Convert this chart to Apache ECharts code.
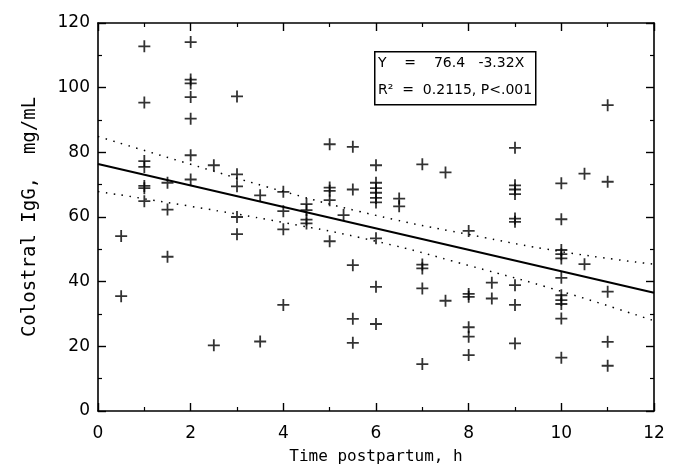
<!DOCTYPE html>
<html>
<head>
<meta charset="utf-8">
<script src="https://cdn.jsdelivr.net/npm/echarts@6/dist/echarts.min.js"></script>
<style>
html,body{margin:0;padding:0;background:#fff;}
#chart{width:678px;height:471px;}
</style>
</head>
<body>
<div id="chart"></div>
<script>
// Time postpartum (h) groups and colostral IgG values
const hours = [0.5, 1, 1.5, 2, 2.5, 3, 3.5, 4, 4.5, 5, 5.3, 5.5, 6, 6.5, 7, 7.5, 8, 8.5, 9, 10, 10.5, 11];
const iggByHour = [
  [54.1, 35.5],
  [112.8, 95.4, 77.3, 75.5, 69.6, 68.9, 64.9],
  [70.6, 62.3, 47.7],
  [114.1, 102.5, 101.3, 97.1, 90.4, 79.1, 71.6],
  [76.0, 20.3],
  [97.3, 73.2, 69.5, 60.0, 54.7],
  [66.7, 21.5],
  [67.8, 61.8, 56.2, 32.8],
  [64.0, 62.1, 59.2, 58.0],
  [82.5, 69.1, 68.1, 65.2, 52.5],
  [60.6],
  [81.7, 68.5, 45.1, 28.5, 21.1],
  [76.0, 70.6, 68.9, 67.5, 65.9, 64.5, 53.4, 38.4, 26.9],
  [65.7, 63.3],
  [76.3, 45.3, 44.1, 37.9, 14.5],
  [73.8, 34.1],
  [55.7, 36.2, 35.3, 25.9, 23.0, 17.3],
  [39.7, 34.8],
  [81.4, 69.8, 68.5, 67.1, 59.5, 58.5, 38.9, 32.8, 20.9],
  [70.4, 59.3, 49.8, 48.5, 47.2, 41.2, 35.8, 34.3, 33.1, 28.6, 16.5],
  [73.4, 45.4],
  [94.6, 70.9, 36.9, 21.4, 14.0]
];
// Regression line endpoints (Y = 76.4 - 3.32X)
const fitX = [0, 12];
const fitY = [76.4, 36.56];
// Confidence band
const bandX = [0, 2, 4, 6, 8, 10, 12];
const bandUpper = [84.9, 76.3, 67.9, 60.5, 54.6, 49.3, 45.4];
const bandLower = [67.9, 63.3, 58.3, 52.5, 45.0, 37.0, 27.9];
const xTicks = [0, 2, 4, 6, 8, 10, 12];
const yTicks = [0, 20, 40, 60, 80, 100, 120];
const boxLines = ['Y    =    76.4   -3.32X', 'R\u00B2  =  0.2115, P<.001'];

const points = [];
hours.forEach((h, i) => iggByHour[i].forEach(v => points.push([h, v])));
const fitData = fitX.map((x, i) => [x, fitY[i]]);
const upperData = bandX.map((x, i) => [x, bandUpper[i]]);
const lowerData = bandX.map((x, i) => [x, bandLower[i]]);

const labelFont = {color: '#000', fontFamily: 'DejaVu Sans', fontSize: 17};
const lineBlack = {color: '#000', width: 1.6};

function xAxisCfg(pos, showLabel) {
  return {
    type: 'value', position: pos, min: xTicks[0], max: xTicks[xTicks.length - 1], interval: 2,
    axisLine: {show: true, onZero: false, lineStyle: lineBlack},
    axisTick: {show: true, inside: true, length: 8, lineStyle: {color: '#000', width: 1.4}},
    minorTick: {show: true, splitNumber: 2, length: 4, lineStyle: {color: '#000', width: 1.2}},
    splitLine: {show: false},
    axisLabel: Object.assign({show: showLabel, margin: 14}, labelFont)
  };
}
function yAxisCfg(pos, showLabel) {
  return {
    type: 'value', position: pos, min: yTicks[0], max: yTicks[yTicks.length - 1], interval: 20,
    axisLine: {show: true, onZero: false, lineStyle: lineBlack},
    axisTick: {show: true, inside: true, length: 8, lineStyle: {color: '#000', width: 1.4}},
    minorTick: {show: true, splitNumber: 2, length: 4, lineStyle: {color: '#000', width: 1.2}},
    splitLine: {show: false},
    axisLabel: Object.assign({show: showLabel, margin: 8}, labelFont)
  };
}

const xMain = xAxisCfg('bottom', true);
xMain.name = 'Time postpartum, h';
xMain.nameLocation = 'middle';
xMain.nameGap = 38;
xMain.nameTextStyle = {color: '#000', fontFamily: 'DejaVu Sans Mono', fontSize: 16};
const yMain = yAxisCfg('left', true);
yMain.name = 'Colostral IgG,  mg/mL';
yMain.nameLocation = 'middle';
yMain.nameGap = 58;
yMain.nameTextStyle = {color: '#000', fontFamily: 'DejaVu Sans Mono', fontSize: 19};

const chart = echarts.init(document.getElementById('chart'), null, {renderer: 'canvas'});
chart.setOption({
  animation: false,
  backgroundColor: '#fff',
  grid: {left: 98, right: 24, top: 23, bottom: 60, containLabel: false},
  xAxis: [xMain, xAxisCfg('top', false)],
  yAxis: [yMain, yAxisCfg('right', false)],
  series: [
    {
      type: 'line', data: upperData, smooth: true, symbol: 'none', silent: true,
      lineStyle: {color: '#000', width: 1.5, type: [1.5, 6.5]}
    },
    {
      type: 'line', data: lowerData, smooth: true, symbol: 'none', silent: true,
      lineStyle: {color: '#000', width: 1.5, type: [1.5, 6.5]}
    },
    {
      type: 'line', data: fitData, symbol: 'none', silent: true,
      lineStyle: {color: '#000', width: 2}
    },
    {
      type: 'scatter', data: points, silent: true,
      symbol: 'path://M0,-10L0,10M-10,0L10,0', symbolSize: 12,
      itemStyle: {color: 'rgba(0,0,0,0)', borderColor: '#000', borderWidth: 1.8}
    }
  ],
  graphic: [
    {
      type: 'rect', left: 374, top: 51, silent: true,
      shape: {width: 161, height: 53},
      style: {fill: '#fff', stroke: '#000', lineWidth: 1.5}
    },
    {
      type: 'text', left: 378, top: 56, silent: true,
      style: {text: boxLines[0], fill: '#000', font: '14px "DejaVu Sans"'}
    },
    {
      type: 'text', left: 378, top: 83, silent: true,
      style: {text: boxLines[1], fill: '#000', font: '14px "DejaVu Sans"'}
    }
  ]
});
</script>
</body>
</html>
